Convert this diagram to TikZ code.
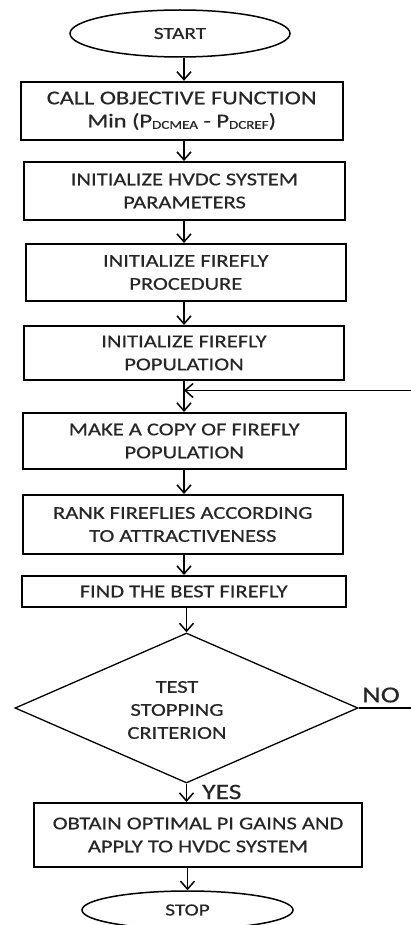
\documentclass[tikz,border=0pt]{standalone}
\usepackage{fontspec}
\setmainfont{Carlito}[FakeStretch=1.25,FakeBold=0.5]
\usetikzlibrary{shapes.geometric,arrows.meta,calc}
\newcommand\lowsub[1]{\raisebox{-1.5pt}{\fontsize{12}{12}\selectfont #1}}
\begin{document}
\begin{tikzpicture}[x=1pt,y=-1pt,
  box/.style={draw, line width=2pt, rectangle, align=center, inner sep=0pt,
    text=black!85, font=\fontsize{18}{23}\selectfont},
  term/.style={draw, line width=1.5pt, ellipse, inner sep=0pt,
    text=black!85, font=\fontsize{17}{20}\selectfont},
  decision/.style={draw, line width=1.3pt, diamond, inner sep=0pt},
  lbl/.style={inner sep=0pt, align=center, text=black!85},
  arr/.style={-{Straight Barb[length=8pt,width=14pt,line width=1.5pt]}, line width=1.5pt},
  conn/.style={line width=1.5pt}]
\useasboundingbox (0,0) rectangle (411,925);
\fill[white] (0,0) rectangle (411,925);

\coordinate (ax) at (184,0);

\node[term, minimum width=220pt, minimum height=47pt] (start) at (180,33.5) {START};

\node[box, minimum width=322pt, minimum height=58pt] (b1) at (181.7,110.8)
  {\fontsize{19.5}{24.5}\selectfont CALL OBJECTIVE FUNCTION\\
   \fontsize{19.5}{24.5}\selectfont Min (P\lowsub{DCMEA} - P\lowsub{DCREF})};
\node[box, minimum width=321pt, minimum height=58pt] (b2) at (184.5,191)
  {INITIALIZE HVDC SYSTEM\\PARAMETERS};
\node[box, minimum width=320pt, minimum height=57pt] (b3) at (185.8,272.5)
  {INITIALIZE FIREFLY\\PROCEDURE};
\node[box, minimum width=320pt, minimum height=54pt] (b4) at (184,353)
  {INITIALIZE FIREFLY\\POPULATION};
\node[box, minimum width=323pt, minimum height=56pt] (b5) at (184.2,441)
  {MAKE A COPY OF FIREFLY\\POPULATION};
\node[box, minimum width=320pt, minimum height=59pt] (b6) at (182.8,524.5)
  {RANK FIREFLIES ACCORDING\\TO ATTRACTIVENESS};
\node[box, minimum width=324pt, minimum height=31pt] (b7) at (183.7,591.5)
  {FIND THE BEST FIREFLY};

\node[decision, minimum width=343pt, minimum height=150pt] (d) at (186.5,708) {};
\node[lbl, font=\fontsize{18}{23}\selectfont] (dtext) at (177,710)
  {TEST\\STOPPING\\CRITERION};

\node[box, minimum width=328pt, minimum height=64pt] (b8) at (198,835)
  {OBTAIN OPTIMAL PI GAINS AND\\APPLY TO HVDC SYSTEM};

\node[term, minimum width=211pt, minimum height=38pt] (stop) at (187.5,910) {STOP};

\node[lbl, font=\fontsize{23}{25}\selectfont, anchor=west] (no) at (362,695) {NO};
\node[lbl, font=\fontsize{22}{24}\selectfont, anchor=west] (yes) at (202,792) {YES};

\coordinate (noend) at (411,708);
\coordinate (fbin) at (411,390.5);

\draw[arr] (start.south -| ax) -- (b1.north -| ax);
\draw[arr] (b1.south -| ax) -- (b2.north -| ax);
\draw[arr] (b2.south -| ax) -- (b3.north -| ax);
\draw[arr] (b3.south -| ax) -- (b4.north -| ax);
\draw[arr] (b4.south -| ax) -- (b5.north -| ax);
\draw[arr] (fbin) -- (fbin -| ax);
\draw[arr] (b5.south -| ax) -- (b6.north -| ax);
\draw[arr] (b6.south -| ax) -- (b7.north -| ax);
\draw[arr] (b7.south -| d.north) -- (d.north);
\draw[arr] (d.south) -- (b8.north -| d.south);
\draw[arr] (b8.south -| stop.north) -- (stop.north);
\draw[conn] (d.east) -- (noend);
\end{tikzpicture}
\end{document}
